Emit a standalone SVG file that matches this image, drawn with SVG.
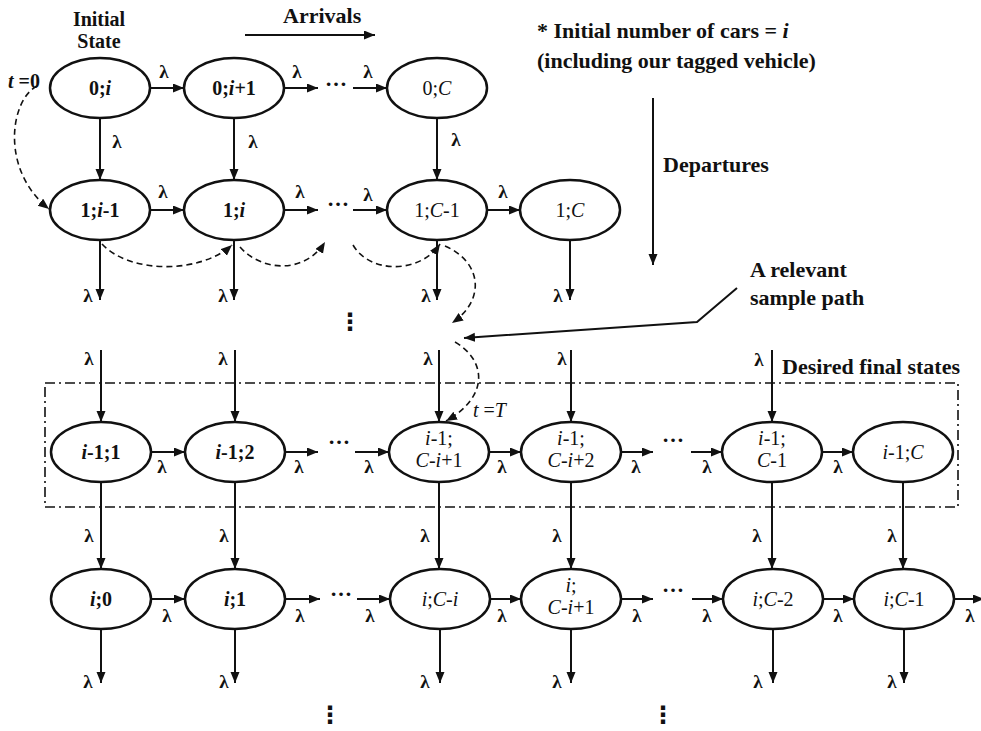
<svg xmlns="http://www.w3.org/2000/svg" width="981" height="731" viewBox="0 0 981 731">
<defs>
<marker id="ah" markerUnits="userSpaceOnUse" markerWidth="12" markerHeight="10" refX="11" refY="4.5" orient="auto">
<path d="M0,0 L11,4.5 L0,9 z" fill="#111"/>
</marker>
<marker id="ahd" markerUnits="userSpaceOnUse" markerWidth="12" markerHeight="10" refX="11" refY="4.5" orient="auto">
<path d="M0,0 L11,4.5 L0,9 z" fill="#111"/>
</marker>
<style>
.n ellipse{fill:#fff;stroke:#111;stroke-width:2.5}
.n text{font-family:"Liberation Serif","Times New Roman",serif;font-size:20px;fill:#111;text-anchor:middle}
.b text{font-weight:bold}
.c line,.c polyline{stroke:#111;stroke-width:2;fill:none;marker-end:url(#ah)}
.d path{stroke:#111;stroke-width:1.6;fill:none;stroke-dasharray:6,4;marker-end:url(#ahd)}
.lam{font-family:"Liberation Serif","Times New Roman",serif;font-size:19px;font-weight:bold;fill:#111;text-anchor:middle}
.lbl{font-family:"Liberation Serif","Times New Roman",serif;font-size:22px;font-weight:bold;fill:#111}
.dots{font-family:"Liberation Serif","DejaVu Serif",serif;font-size:22px;font-weight:bold;fill:#111}
.vd{font-family:"DejaVu Sans",sans-serif;font-size:24px;font-weight:bold;fill:#111;text-anchor:middle}
.it{font-style:italic}
</style>
</defs>
<rect width="981" height="731" fill="#fff"/>

<!-- labels -->
<text class="lbl" x="99" y="26" text-anchor="middle" style="font-size:20px">Initial</text>
<text class="lbl" x="99" y="48" text-anchor="middle" style="font-size:20px">State</text>
<text class="lbl" x="283" y="23">Arrivals</text>
<text class="lbl" x="537" y="38">* Initial number of cars = <tspan class="it">i</tspan></text>
<text class="lbl" x="537" y="68">(including our tagged vehicle)</text>
<text class="lbl" x="663" y="172">Departures</text>
<text class="lbl" x="750" y="277">A relevant</text>
<text class="lbl" x="750" y="305">sample path</text>
<text class="lbl" x="782" y="374">Desired final states</text>
<text class="lbl" x="8" y="88" style="font-size:20px"><tspan class="it">t</tspan> =0</text>
<text class="lbl" x="473" y="417" style="font-size:20px;font-weight:normal"><tspan class="it">t</tspan> =<tspan class="it">T</tspan></text>

<!-- desired final states box -->
<rect x="45" y="383" width="913" height="124" fill="none" stroke="#111" stroke-width="1.6" stroke-dasharray="10,4,2,4"/>

<!-- connectors -->
<g id="connectors" class="c">
<line x1="245" y1="35" x2="375" y2="35"/>
<line x1="653" y1="98" x2="653" y2="265"/>
<polyline points="737,288 697,322 464,338"/>
<!-- row 1 horizontal -->
<line x1="150" y1="88" x2="184" y2="88"/>
<line x1="284" y1="88" x2="318" y2="88"/>
<line x1="353" y1="88" x2="387" y2="88"/>
<!-- row1 to row2 -->
<line x1="100" y1="118" x2="100" y2="180"/>
<line x1="234" y1="118" x2="234" y2="180"/>
<line x1="437" y1="118" x2="437" y2="180"/>
<!-- row 2 horizontal -->
<line x1="150" y1="210" x2="184" y2="210"/>
<line x1="284" y1="210" x2="318" y2="210"/>
<line x1="353" y1="210" x2="387" y2="210"/>
<line x1="487" y1="210" x2="520" y2="210"/>
<!-- row 2 out -->
<line x1="100" y1="240" x2="100" y2="300"/>
<line x1="234" y1="240" x2="234" y2="300"/>
<line x1="437" y1="240" x2="437" y2="300"/>
<line x1="570" y1="240" x2="570" y2="300"/>
<!-- row 3 in -->
<line x1="101" y1="350" x2="101" y2="422"/>
<line x1="235" y1="350" x2="235" y2="422"/>
<line x1="439" y1="350" x2="439" y2="422"/>
<line x1="571" y1="350" x2="571" y2="422"/>
<line x1="772" y1="350" x2="772" y2="422"/>
<!-- row 3 horizontal -->
<line x1="151" y1="452" x2="185" y2="452"/>
<line x1="285" y1="452" x2="318" y2="452"/>
<line x1="355" y1="452" x2="389" y2="452"/>
<line x1="489" y1="452" x2="521" y2="452"/>
<line x1="621" y1="452" x2="653" y2="452"/>
<line x1="691" y1="452" x2="722" y2="452"/>
<line x1="822" y1="452" x2="853" y2="452"/>
<!-- row3 to row4 -->
<line x1="101" y1="482" x2="101" y2="569"/>
<line x1="235" y1="482" x2="235" y2="569"/>
<line x1="439" y1="482" x2="439" y2="569"/>
<line x1="571" y1="482" x2="571" y2="569"/>
<line x1="772" y1="482" x2="772" y2="569"/>
<line x1="903" y1="482" x2="903" y2="569"/>
<!-- row 4 horizontal -->
<line x1="151" y1="599" x2="185" y2="599"/>
<line x1="285" y1="599" x2="320" y2="599"/>
<line x1="357" y1="599" x2="390" y2="599"/>
<line x1="490" y1="599" x2="521" y2="599"/>
<line x1="621" y1="599" x2="653" y2="599"/>
<line x1="692" y1="599" x2="723" y2="599"/>
<line x1="823" y1="599" x2="854" y2="599"/>
<line x1="954" y1="599" x2="984" y2="599"/>
<!-- row 4 out -->
<line x1="101" y1="629" x2="101" y2="683"/>
<line x1="235" y1="629" x2="235" y2="683"/>
<line x1="440" y1="629" x2="440" y2="683"/>
<line x1="571" y1="629" x2="571" y2="683"/>
<line x1="773" y1="629" x2="773" y2="683"/>
<line x1="904" y1="629" x2="904" y2="683"/>
</g>

<g id="sample-path" class="d">
<path d="M37,86 C10,100 0,170 49,209"/>
<path d="M102,244 C130,274 200,274 232,245"/>
<path d="M240,247 C262,272 305,274 325,242"/>
<path d="M353,245 C370,274 420,274 440,244"/>
<path d="M445,246 C482,262 486,300 452,323"/>
<path d="M455,342 C486,360 490,396 446,421"/>
</g>

<!-- lambda labels -->
<g id="rates">
<text class="lam" x="164" y="78">λ</text>
<text class="lam" x="297" y="78">λ</text>
<text class="lam" x="368" y="78">λ</text>
<text class="lam" x="117" y="148">λ</text>
<text class="lam" x="253" y="148">λ</text>
<text class="lam" x="456" y="146">λ</text>
<text class="lam" x="163" y="198">λ</text>
<text class="lam" x="300" y="198">λ</text>
<text class="lam" x="368" y="201">λ</text>
<text class="lam" x="503" y="198">λ</text>
<text class="lam" x="88" y="302">λ</text>
<text class="lam" x="223" y="302">λ</text>
<text class="lam" x="426" y="302">λ</text>
<text class="lam" x="558" y="302">λ</text>
<text class="lam" x="89" y="365">λ</text>
<text class="lam" x="223" y="365">λ</text>
<text class="lam" x="428" y="365">λ</text>
<text class="lam" x="562" y="365">λ</text>
<text class="lam" x="759" y="366">λ</text>
<text class="lam" x="162" y="473">λ</text>
<text class="lam" x="299" y="473">λ</text>
<text class="lam" x="369" y="473">λ</text>
<text class="lam" x="502" y="473">λ</text>
<text class="lam" x="636" y="473">λ</text>
<text class="lam" x="707" y="473">λ</text>
<text class="lam" x="838" y="473">λ</text>
<text class="lam" x="89" y="542">λ</text>
<text class="lam" x="224" y="542">λ</text>
<text class="lam" x="425" y="542">λ</text>
<text class="lam" x="557" y="542">λ</text>
<text class="lam" x="757" y="542">λ</text>
<text class="lam" x="892" y="542">λ</text>
<text class="lam" x="167" y="622">λ</text>
<text class="lam" x="300" y="622">λ</text>
<text class="lam" x="370" y="622">λ</text>
<text class="lam" x="502" y="622">λ</text>
<text class="lam" x="637" y="622">λ</text>
<text class="lam" x="707" y="622">λ</text>
<text class="lam" x="838" y="622">λ</text>
<text class="lam" x="970" y="622">λ</text>
<text class="lam" x="88" y="688">λ</text>
<text class="lam" x="224" y="688">λ</text>
<text class="lam" x="425" y="688">λ</text>
<text class="lam" x="557" y="688">λ</text>
<text class="lam" x="758" y="688">λ</text>
<text class="lam" x="892" y="688">λ</text>
</g>

<!-- ellipses (dots) -->
<g id="ellipses">
<text class="dots" x="325" y="86">…</text>
<text class="dots" x="327" y="206">…</text>
<text class="dots" x="328" y="444">…</text>
<text class="dots" x="662" y="442">…</text>
<text class="dots" x="330" y="596">…</text>
<text class="dots" x="662" y="592">…</text>
<text class="vd" x="350" y="330">⋮</text>
<text class="vd" x="330" y="723">⋮</text>
<text class="vd" x="663" y="723">⋮</text>
</g>

<!-- nodes -->
<g id="n-0-i" class="n b"><ellipse cx="100" cy="88" rx="50" ry="30"/><text x="100" y="95">0;<tspan class="it">i</tspan></text></g>
<g id="n-0-i1" class="n b"><ellipse cx="234" cy="88" rx="50" ry="30"/><text x="234" y="95">0;<tspan class="it">i</tspan>+1</text></g>
<g id="n-0-C" class="n"><ellipse cx="437" cy="88" rx="50" ry="30"/><text x="437" y="95">0;<tspan class="it">C</tspan></text></g>

<g id="n-1-im1" class="n b"><ellipse cx="100" cy="210" rx="50" ry="30"/><text x="100" y="217">1;<tspan class="it">i</tspan>-1</text></g>
<g id="n-1-i" class="n b"><ellipse cx="234" cy="210" rx="50" ry="30"/><text x="234" y="217">1;<tspan class="it">i</tspan></text></g>
<g id="n-1-Cm1" class="n"><ellipse cx="437" cy="210" rx="50" ry="30"/><text x="437" y="217">1;<tspan class="it">C</tspan>-1</text></g>
<g id="n-1-C" class="n"><ellipse cx="570" cy="210" rx="50" ry="30"/><text x="570" y="217">1;<tspan class="it">C</tspan></text></g>

<g id="n-im1-1" class="n b"><ellipse cx="101" cy="452" rx="50" ry="30"/><text x="101" y="459"><tspan class="it">i</tspan>-1;1</text></g>
<g id="n-im1-2" class="n b"><ellipse cx="235" cy="452" rx="50" ry="30"/><text x="235" y="459"><tspan class="it">i</tspan>-1;2</text></g>
<g id="n-im1-Cmi1" class="n"><ellipse cx="439" cy="452" rx="50" ry="30"/><text x="439" y="445"><tspan class="it">i</tspan>-1;</text><text x="439" y="467"><tspan class="it">C</tspan>-<tspan class="it">i</tspan>+1</text></g>
<g id="n-im1-Cmi2" class="n"><ellipse cx="571" cy="452" rx="50" ry="30"/><text x="571" y="445"><tspan class="it">i</tspan>-1;</text><text x="571" y="467"><tspan class="it">C</tspan>-<tspan class="it">i</tspan>+2</text></g>
<g id="n-im1-Cm1" class="n"><ellipse cx="772" cy="452" rx="50" ry="30"/><text x="772" y="445"><tspan class="it">i</tspan>-1;</text><text x="772" y="467"><tspan class="it">C</tspan>-1</text></g>
<g id="n-im1-C" class="n"><ellipse cx="903" cy="452" rx="50" ry="30"/><text x="903" y="459"><tspan class="it">i</tspan>-1;<tspan class="it">C</tspan></text></g>

<g id="n-i-0" class="n b"><ellipse cx="101" cy="599" rx="50" ry="30"/><text x="101" y="606"><tspan class="it">i</tspan>;0</text></g>
<g id="n-i-1" class="n b"><ellipse cx="235" cy="599" rx="50" ry="30"/><text x="235" y="606"><tspan class="it">i</tspan>;1</text></g>
<g id="n-i-Cmi" class="n"><ellipse cx="440" cy="599" rx="50" ry="30"/><text x="440" y="606"><tspan class="it">i</tspan>;<tspan class="it">C</tspan>-<tspan class="it">i</tspan></text></g>
<g id="n-i-Cmi1" class="n"><ellipse cx="571" cy="599" rx="50" ry="30"/><text x="571" y="592"><tspan class="it">i</tspan>;</text><text x="571" y="614"><tspan class="it">C</tspan>-<tspan class="it">i</tspan>+1</text></g>
<g id="n-i-Cm2" class="n"><ellipse cx="773" cy="599" rx="50" ry="30"/><text x="773" y="606"><tspan class="it">i</tspan>;<tspan class="it">C</tspan>-2</text></g>
<g id="n-i-Cm1" class="n"><ellipse cx="904" cy="599" rx="50" ry="30"/><text x="904" y="606"><tspan class="it">i</tspan>;<tspan class="it">C</tspan>-1</text></g>
</svg>
